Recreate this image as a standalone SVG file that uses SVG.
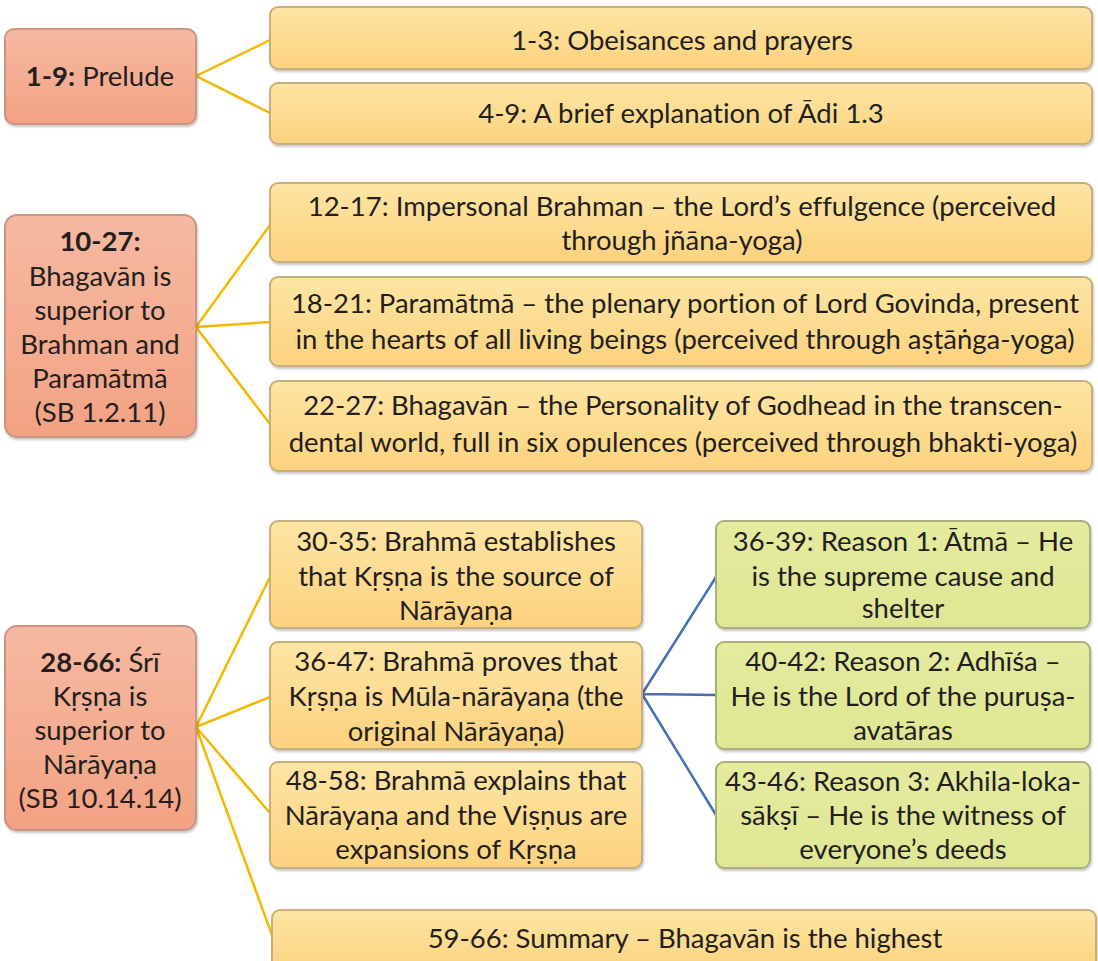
<svg xmlns="http://www.w3.org/2000/svg" width="1098" height="961" viewBox="0 0 1098 961">
  <defs>
    <linearGradient id="gSalmon" x1="0" y1="0" x2="0" y2="1">
      <stop offset="0" stop-color="#f5b9a1"/>
      <stop offset="1" stop-color="#f3a283"/>
    </linearGradient>
    <linearGradient id="gYellow" x1="0" y1="0" x2="0" y2="1">
      <stop offset="0" stop-color="#fde5a3"/>
      <stop offset="1" stop-color="#fcd27e"/>
    </linearGradient>
    <linearGradient id="gGreen" x1="0" y1="0" x2="0" y2="1">
      <stop offset="0" stop-color="#e5eb9f"/>
      <stop offset="1" stop-color="#dfe694"/>
    </linearGradient>
    <filter id="shadow" x="-5%" y="-10%" width="110%" height="125%">
      <feDropShadow dx="1" dy="2" stdDeviation="1.2" flood-color="#000" flood-opacity="0.22"/>
    </filter>
  </defs>
  <style>
    text { font-family: Lato, "Noto Sans", "DejaVu Sans", sans-serif; font-size: 27.5px; fill: #231f20; text-anchor: middle; font-variant-ligatures: none; }
    .b { font-weight: bold; }
    .salmon { fill: url(#gSalmon); stroke: #c99685; stroke-width: 2; filter: url(#shadow); }
    .yellow { fill: url(#gYellow); stroke: #c8ae7c; stroke-width: 2; filter: url(#shadow); }
    .green { fill: url(#gGreen); stroke: #a9b07c; stroke-width: 2; filter: url(#shadow); }
    .cy { stroke: #f5b800; stroke-width: 2.5; fill: none; }
    .cb { stroke: #4a6fb6; stroke-width: 2.5; fill: none; }
  </style>

  <rect width="1098" height="961" fill="#ffffff"/>

  <!-- connectors -->
  <g id="connectors">
    <path class="cy" d="M196,76 L270,40 M196,76 L270,113"/>
    <path class="cy" d="M196,327 L270,225 M196,327 L270,322 M196,327 L270,424"/>
    <path class="cy" d="M196,727 L270,577 M196,727 L270,697 M196,727 L270,813 M196,727 L272,935"/>
    <path class="cb" d="M642,694 L716,577 M642,694 L716,695 M642,694 L716,815"/>
  </g>

  <!-- section 1 -->
  <g id="n-1-9">
    <rect class="salmon" x="5" y="29" width="191" height="95" rx="9"/>
    <text x="100" y="86"><tspan class="b">1-9:</tspan> Prelude</text>
  </g>
  <g id="n-1-3">
    <rect class="yellow" x="270" y="7" width="822" height="62" rx="8"/>
    <text x="682" y="50">1-3: Obeisances and prayers</text>
  </g>
  <g id="n-4-9">
    <rect class="yellow" x="270" y="83" width="822" height="61" rx="8"/>
    <text x="681" y="123">4-9: A brief explanation of Ādi 1.3</text>
  </g>

  <!-- section 2 -->
  <g id="n-10-27">
    <rect class="salmon" x="5" y="215" width="191" height="222" rx="12"/>
    <text x="100" y="251" class="b">10-27:</text>
    <text x="100" y="286">Bhagavān is</text>
    <text x="100" y="320">superior to</text>
    <text x="100" y="354">Brahman and</text>
    <text x="100" y="388">Paramātmā</text>
    <text x="100" y="422">(SB 1.2.11)</text>
  </g>
  <g id="n-12-17">
    <rect class="yellow" x="270" y="183" width="822" height="79" rx="8"/>
    <text x="682" y="216">12-17: Impersonal Brahman – the Lord’s effulgence (perceived</text>
    <text x="682" y="250">through jñāna-yoga)</text>
  </g>
  <g id="n-18-21">
    <rect class="yellow" x="270" y="277" width="822" height="89" rx="8"/>
    <text x="685" y="313">18-21: Paramātmā – the plenary portion of Lord Govinda, present</text>
    <text x="685" y="349">in the hearts of all living beings (perceived through aṣṭāṅga-yoga)</text>
  </g>
  <g id="n-22-27">
    <rect class="yellow" x="270" y="381" width="822" height="90" rx="8"/>
    <text x="683" y="415">22-27: Bhagavān – the Personality of Godhead in the transcen-</text>
    <text x="683" y="452">dental world, full in six opulences (perceived through bhakti-yoga)</text>
  </g>

  <!-- section 3 -->
  <g id="n-28-66">
    <rect class="salmon" x="5" y="626" width="191" height="204" rx="12"/>
    <text x="100" y="672"><tspan class="b">28-66:</tspan> Śrī</text>
    <text x="100" y="706">Kṛṣṇa is</text>
    <text x="100" y="740">superior to</text>
    <text x="100" y="774">Nārāyaṇa</text>
    <text x="100" y="808">(SB 10.14.14)</text>
  </g>
  <g id="n-30-35">
    <rect class="yellow" x="270" y="521" width="372" height="107" rx="8"/>
    <text x="456" y="551">30-35: Brahmā establishes</text>
    <text x="456" y="586">that Kṛṣṇa is the source of</text>
    <text x="456" y="620">Nārāyaṇa</text>
  </g>
  <g id="n-36-47">
    <rect class="yellow" x="270" y="642" width="372" height="107" rx="8"/>
    <text x="456" y="671">36-47: Brahmā proves that</text>
    <text x="456" y="706">Kṛṣṇa is Mūla-nārāyaṇa (the</text>
    <text x="456" y="741">original Nārāyaṇa)</text>
  </g>
  <g id="n-48-58">
    <rect class="yellow" x="270" y="762" width="372" height="106" rx="8"/>
    <text x="456" y="790">48-58: Brahmā explains that</text>
    <text x="456" y="825">Nārāyaṇa and the Viṣṇus are</text>
    <text x="456" y="859">expansions of Kṛṣṇa</text>
  </g>
  <g id="n-36-39">
    <rect class="green" x="716" y="521" width="374" height="107" rx="8"/>
    <text x="903" y="551">36-39: Reason 1: Ātmā – He</text>
    <text x="903" y="586">is the supreme cause and</text>
    <text x="903" y="618">shelter</text>
  </g>
  <g id="n-40-42">
    <rect class="green" x="716" y="642" width="374" height="107" rx="8"/>
    <text x="903" y="671">40-42: Reason 2: Adhīśa –</text>
    <text x="903" y="706">He is the Lord of the puruṣa-</text>
    <text x="903" y="740">avatāras</text>
  </g>
  <g id="n-43-46">
    <rect class="green" x="716" y="762" width="374" height="106" rx="8"/>
    <text x="903" y="791">43-46: Reason 3: Akhila-loka-</text>
    <text x="903" y="825">sākṣī – He is the witness of</text>
    <text x="903" y="859">everyone’s deeds</text>
  </g>
  <g id="n-59-66">
    <rect class="yellow" x="272" y="910" width="824" height="62" rx="8"/>
    <text x="685" y="948">59-66: Summary – Bhagavān is the highest</text>
  </g>
</svg>
